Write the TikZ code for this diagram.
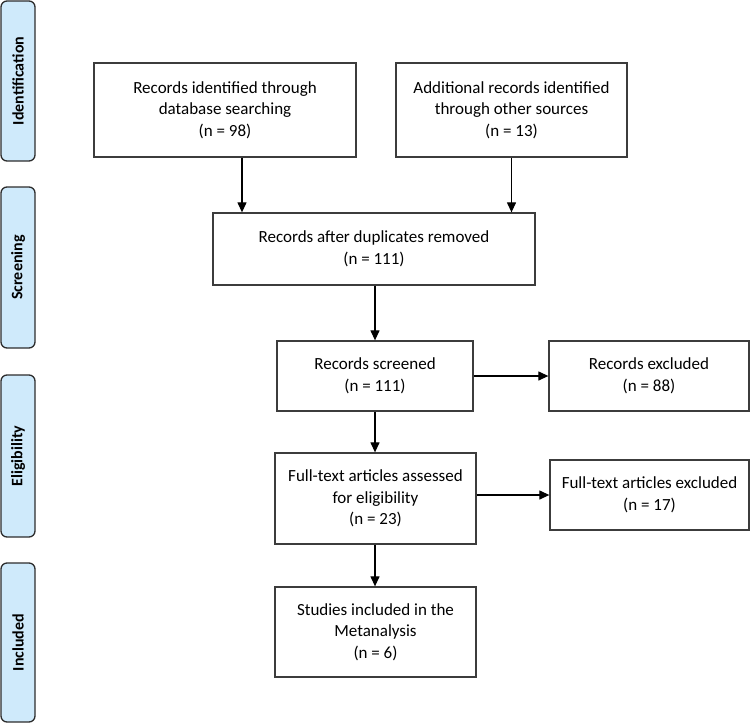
\documentclass[tikz,border=0pt]{standalone}
\usepackage{fontspec}
\setmainfont{Carlito}
\usetikzlibrary{arrows.meta}
\definecolor{sidefill}{RGB}{207,234,251}
\definecolor{sideline}{RGB}{45,45,45}
\definecolor{boxline}{RGB}{60,60,60}
\tikzset{
  box/.style={draw=boxline, line width=1.3pt, align=center, inner sep=2pt,
    font=\fontsize{17}{21.5}\selectfont},
  side/.style={draw=sideline, fill=sidefill, line width=1.3pt, rounded corners=6pt,
    minimum width=34pt, inner sep=0pt},
  sidetext/.style={rotate=90, font=\bfseries\fontsize{16}{18}\selectfont},
  arr/.style={line width=1.2pt, draw=black, -{Triangle[length=10pt,width=9pt]}}
}
\begin{document}
\begin{tikzpicture}[x=1pt,y=-1pt]
\useasboundingbox (0,0) rectangle (751,725);
% side labels
\node[side, minimum height=160pt] (s1) at (18,81) {};
\node[sidetext] at (s1.center) {Identification};
\node[side, minimum height=161pt] (s2) at (18,267.5) {};
\node[sidetext] at (s2.center) {Screening};
\node[side, minimum height=162pt] (s3) at (18,456) {};
\node[sidetext] at (s3.center) {Eligibility};
\node[side, minimum height=159pt] (s4) at (18,642.5) {};
\node[sidetext] at (s4.center) {Included};
% boxes
\node[box, minimum width=262pt, minimum height=94pt] (b1) at (225,110)
  {Records identified through\\database searching\\(n = 98)};
\node[box, minimum width=231pt, minimum height=94pt] (b2) at (511.5,110)
  {Additional records identified\\through other sources\\(n = 13)};
\node[box, minimum width=322pt, minimum height=72pt] (b3) at (374,249)
  {Records after duplicates removed\\(n = 111)};
\node[box, minimum width=196pt, minimum height=70pt] (b4) at (375,376)
  {Records screened\\(n = 111)};
\node[box, minimum width=200pt, minimum height=70pt] (b5) at (649,376)
  {Records excluded\\(n = 88)};
\node[box, minimum width=201pt, minimum height=91pt] (b6) at (375.5,498.5)
  {Full-text articles assessed\\for eligibility\\(n = 23)};
\node[box, minimum width=199pt, minimum height=70pt] (b7) at (649.5,495)
  {Full-text articles excluded\\(n = 17)};
\node[box, minimum width=201pt, minimum height=90pt] (b8) at (375.5,632)
  {Studies included in the\\Metanalysis\\(n = 6)};
% connectors
\coordinate (a1) at (242,0);
\coordinate (a3) at (375,0);
\draw[arr] (b1.south -| a1) -- (b3.north -| a1);
\draw[arr] (b2.south) -- (b3.north -| b2.south);
\draw[arr] (b3.south -| a3) -- (b4.north -| a3);
\draw[arr] (b4.east) -- (b5.west);
\draw[arr] (b4.south -| a3) -- (b6.north -| a3);
\draw[arr] (b6.east |- b7.west) -- (b7.west);
\draw[arr] (b6.south -| a3) -- (b8.north -| a3);
\end{tikzpicture}
\end{document}
